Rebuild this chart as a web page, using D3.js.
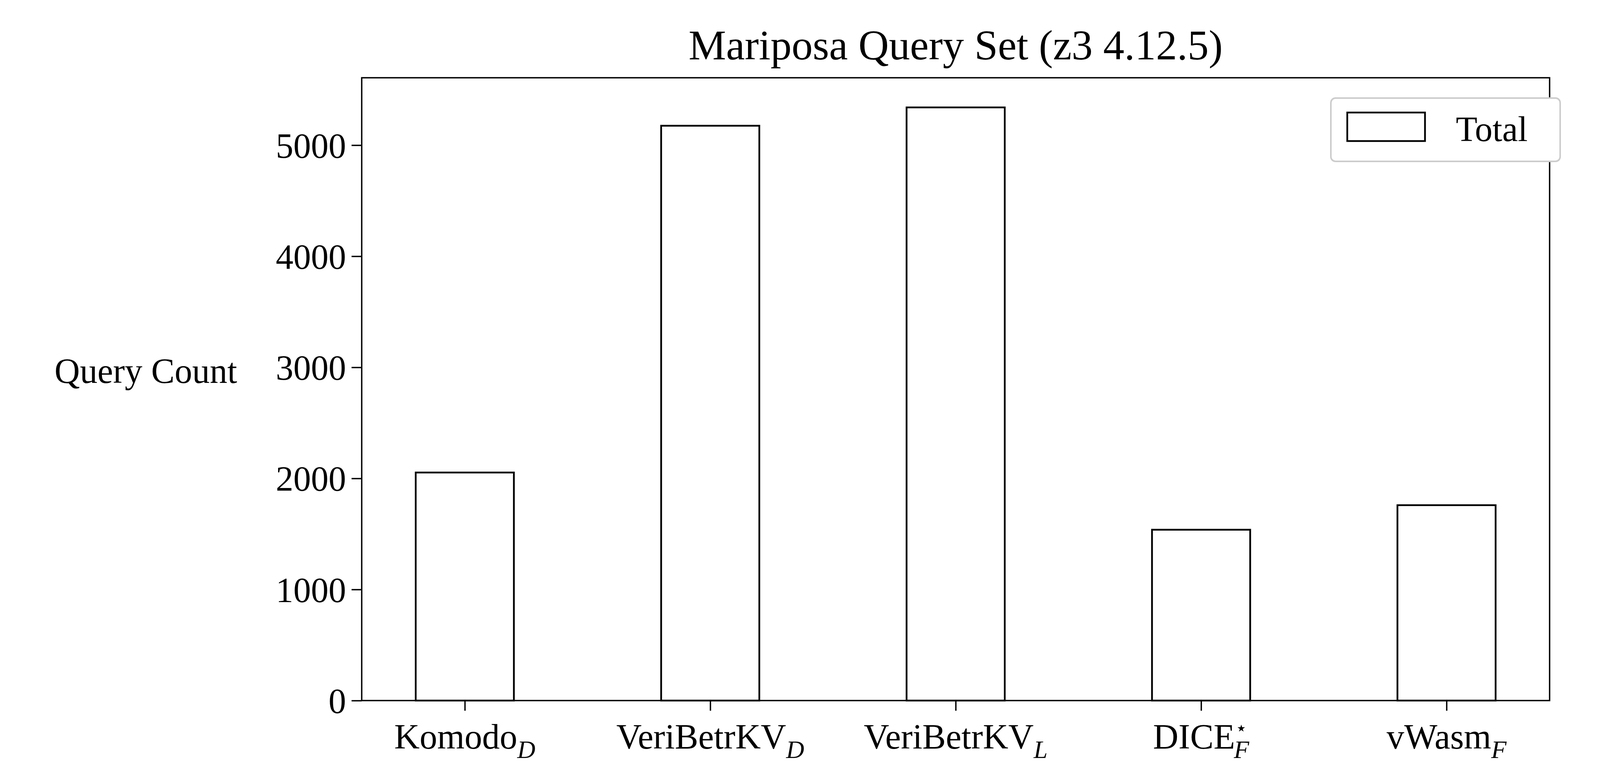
<!DOCTYPE html>
<html>
<head>
<meta charset="utf-8">
<script src="https://cdn.jsdelivr.net/npm/d3@7"></script>
<style>
body { margin: 0; background: #fff; }
text { font-family: "Liberation Serif", "DejaVu Serif", serif; fill: #000; }
</style>
</head>
<body>
<div id="chart-area"></div>
<script>
// data
var names = ["Komodo", "VeriBetrKV", "VeriBetrKV", "DICE", "vWasm"];
var subs = ["D", "D", "L", "F", "F"];
var sups = ["", "", "", "\u22C6", ""];
var totals = [2053, 5175, 5340, 1538, 1759];
var yTicks = [0, 1000, 2000, 3000, 4000, 5000];

var margin = {top: 199, right: 137, bottom: 211, left: 926};
var width = 4104 - margin.left - margin.right,
    height = 2004 - margin.top - margin.bottom;

var svg = d3.select("#chart-area").append("svg")
    .attr("width", 4104)
    .attr("height", 2004)
    .append("g")
    .attr("transform", "translate(" + margin.left + "," + margin.top + ")");

//SCALES
var x = d3.scaleLinear().domain([-0.42, 4.42]).range([0, width]);
var y = d3.scaleLinear().domain([0, 5607]).range([height, 0]);
var barW = x(0.4) - x(0);

//BARS
svg.selectAll(".bar")
    .data(totals)
    .enter().append("rect")
    .attr("class", "bar")
    .attr("x", function(d, i) { return x(i) - barW / 2; })
    .attr("y", function(d) { return y(d); })
    .attr("width", barW)
    .attr("height", function(d) { return height - y(d); })
    .attr("fill", "#fff")
    .attr("stroke", "#000")
    .attr("stroke-width", 4.5);

//AXES
var yAxis = d3.axisLeft(y).tickValues(yTicks).tickSize(26).tickPadding(14).tickFormat(d3.format("d"));
var gy = svg.append("g").call(yAxis);
gy.select(".domain").remove();
gy.selectAll("line").attr("stroke-width", 3.5);
gy.selectAll("text").style("font-size", "90px").attr("dy", "0.35em");

var xAxis = d3.axisBottom(x).tickValues(d3.range(names.length)).tickSize(26).tickFormat("");
var gx = svg.append("g").attr("transform", "translate(0," + height + ")").call(xAxis);
gx.select(".domain").remove();
gx.selectAll("line").attr("stroke-width", 3.5);

// x labels with subscripts
var xl = svg.selectAll(".xlabel")
    .data(names)
    .enter().append("text")
    .attr("class", "xlabel")
    .attr("x", function(d, i) { return x(i); })
    .attr("y", height + 123)
    .style("font-size", "90px")
    .attr("text-anchor", "middle");
xl.append("tspan").text(function(d) { return d; });
xl.filter(function(d, i) { return sups[i]; })
    .append("tspan")
    .attr("dy", -36)
    .style("font-size", "50px")
    .text(function(d, i) { return sups[3]; });
xl.append("tspan")
    .attr("dx", function(d, i) { return sups[i] ? -34 : 0; })
    .attr("dy", function(d, i) { return sups[i] ? 60 : 24; })
    .style("font-size", "64px")
    .style("font-style", "italic")
    .text(function(d, i) { return subs[i]; });

// frame
svg.append("rect")
    .attr("width", width).attr("height", height)
    .attr("fill", "none").attr("stroke", "#000").attr("stroke-width", 3.5);

// title
svg.append("text")
    .attr("x", width / 2).attr("y", -47)
    .attr("text-anchor", "middle")
    .style("font-size", "108px")
    .text("Mariposa Query Set (z3 4.12.5)");

// y label
svg.append("text")
    .attr("x", -319).attr("y", y(3000) + 40)
    .attr("text-anchor", "end")
    .style("font-size", "90px")
    .text("Query Count");

// legend
var lg = svg.append("g").attr("transform", "translate(" + (width - 560) + ",52)");
lg.append("rect").attr("width", 587).attr("height", 162).attr("rx", 12)
    .attr("fill", "#fff").attr("stroke", "#ccc").attr("stroke-width", 4);
lg.append("rect").attr("x", 42).attr("y", 37).attr("width", 199).attr("height", 73)
    .attr("fill", "#fff").attr("stroke", "#000").attr("stroke-width", 4.5);
lg.append("text").attr("x", 320).attr("y", 110).style("font-size", "90px").text("Total");
</script>
</body>
</html>
